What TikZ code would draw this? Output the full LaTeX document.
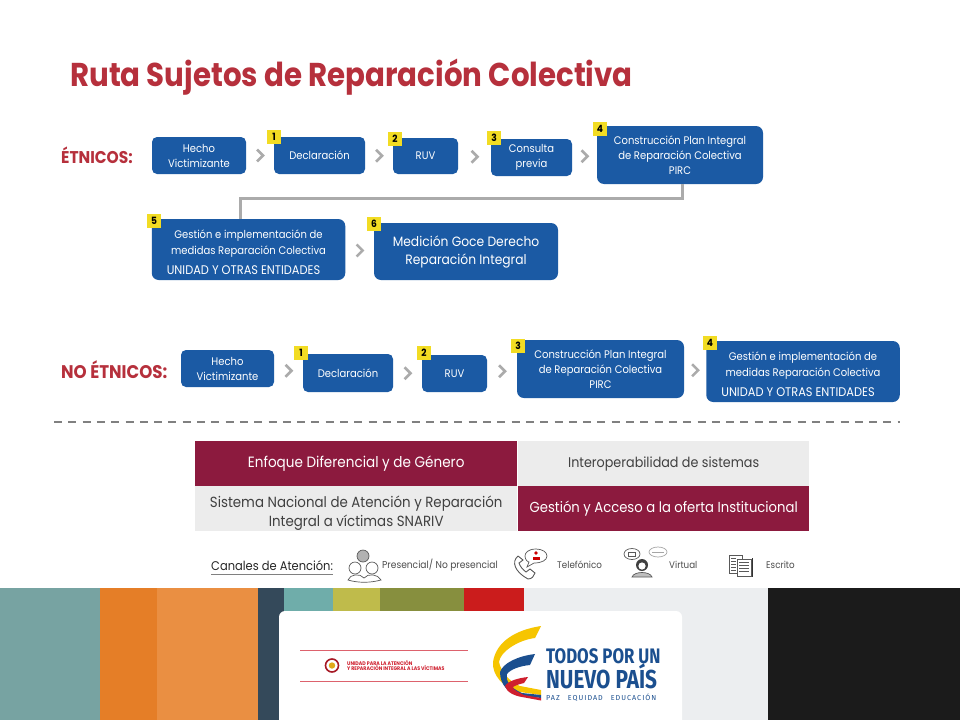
\documentclass[tikz,border=0pt]{standalone}
\usepackage{fontspec}
\usetikzlibrary{calc}
\setmainfont[FakeStretch=0.91]{Poppins}
\newfontfamily\titlefont[FakeStretch=0.887]{Poppins}
\newfontfamily\logofont[FakeStretch=0.8]{Fira Sans}
\newfontfamily\lemafont[LetterSpace=14]{Fira Sans}
\definecolor{boxblue}{HTML}{1B5AA4}
\definecolor{titlered}{HTML}{B6303C}
\definecolor{wine}{HTML}{8C1A3E}
\definecolor{pale}{HTML}{ECECEC}
\definecolor{arrowgray}{HTML}{ABABAB}
\definecolor{badge}{HTML}{F2DC23}
\definecolor{logoblue}{HTML}{1B4F8F}
\definecolor{logoyellow}{HTML}{F6C500}
\definecolor{logored}{HTML}{CF1F2E}
\definecolor{bandteal}{HTML}{77A3A2}
\definecolor{bandorange}{HTML}{E57E27}
\definecolor{bandpeach}{HTML}{EA8F42}
\definecolor{bandslate}{HTML}{34495A}
\definecolor{bandaqua}{HTML}{6FADAA}
\definecolor{bandlime}{HTML}{BFBB4B}
\definecolor{bandolive}{HTML}{878F3E}
\definecolor{bandred}{HTML}{CB1C1C}
\definecolor{bandpale}{HTML}{ECEEF0}
\definecolor{bandblack}{HTML}{1B1B1B}
\tikzset{
  stepbox/.style={fill=boxblue,rounded corners=5pt,text=white,align=center,inner sep=0pt,font=\fontsize{11}{15}\selectfont},
  bigbox/.style={stepbox,rounded corners=7pt},
  gestbox/.style={bigbox,minimum width=193.5pt,minimum height=61pt,font=\fontsize{11}{16}\selectfont},
  num/.style={fill=badge,minimum size=14pt,inner sep=0pt,font=\fontsize{10}{10}\selectfont\bfseries},
  chev/.style={draw=arrowgray,line width=2.6pt},
  head/.style={text=titlered,font=\fontsize{17}{17}\selectfont\bfseries,inner sep=0pt,anchor=west},
  cell/.style={minimum width=322pt,minimum height=45pt,inner sep=0pt,align=center,anchor=north west,font=\fontsize{14.5}{19}\selectfont},
  chan/.style={inner sep=0pt,anchor=west,text=black!70,font=\fontsize{9.6}{9.6}\selectfont},
  icon/.style={draw=black!65,line width=.7pt}
}
\newcommand{\chevat}[2]{\draw[chev] ($(#1.east)!.5!(#2.west)$) ++(-3,-6) -- ++(6,6) -- ++(-6,6);}
\newcommand{\otras}{{\fontsize{12.5}{16}\selectfont UNIDAD Y OTRAS ENTIDADES}\hspace*{10pt}}
\begin{document}
\begin{tikzpicture}[x=1pt,y=-1pt]
\useasboundingbox (0,0) rectangle (960,720);
\fill[white] (0,0) rectangle (960,720);
\node (title) [anchor=west,inner sep=0pt,text=titlered,font=\titlefont\fontsize{33}{33}\selectfont\bfseries] at (70,77) {Ruta Sujetos de Reparación Colectiva};
% etnicos
\node (et) [head] at (61,155) {ÉTNICOS:};
\node (a0) [stepbox,minimum width=94pt,minimum height=37pt] at (199,155.5) {Hecho\\Victimizante};
\node (a1) [stepbox,minimum width=91pt,minimum height=37pt] at (319.5,155.5) {Declaración};
\node (a2) [stepbox,minimum width=65pt,minimum height=36pt] at (425.5,156) {RUV};
\node (a3) [stepbox,minimum width=81pt,minimum height=37pt] at (531.5,157.5) {Consulta\\previa};
\node (a4) [bigbox,minimum width=166pt,minimum height=58pt] at (680,155) {Construcción Plan Integral\\de Reparación Colectiva\\PIRC};
\node (a5) [gestbox] at (248.5,249.5) {\rule{0pt}{15pt}Gestión e implementación de\\medidas Reparación Colectiva\\[4pt]\otras};
\node (a6) [bigbox,minimum width=184pt,minimum height=57pt,font=\fontsize{13.5}{18}\selectfont] at (466,251.5) {Medición Goce Derecho\\Reparación Integral};
\node (n1) [num] at (274,137) {1};
\node (n2) [num] at (395,138.5) {2};
\node (n3) [num] at (494,138) {3};
\node (n4) [num] at (600,129) {4};
\node (n5) [num] at (154,220.5) {5};
\node (n6) [num] at (374,223.5) {6};
\chevat{a0}{a1}
\chevat{a1}{a2}
\chevat{a2}{a3}
\chevat{a3}{a4}
\chevat{a5}{a6}
\coordinate (bendr) at (682,198.5);
\coordinate (bendl) at (240,198.5);
\draw[draw=arrowgray,line width=3pt] (a4.south -| bendr) -- (bendr) -- (bendl) -- (a5.north -| bendl);
% no etnicos
\node (net) [head,font=\fontsize{18.3}{18}\selectfont\bfseries] at (61,370) {NO ÉTNICOS:};
\node (b0) [stepbox,minimum width=93pt,minimum height=37pt] at (227.5,368.5) {Hecho\\Victimizante};
\node (b1) [stepbox,minimum width=90pt,minimum height=38pt] at (348,373) {Declaración};
\node (b2) [stepbox,minimum width=65pt,minimum height=37pt] at (454.5,373.5) {RUV};
\node (b3) [bigbox,minimum width=167pt,minimum height=58pt] at (600.5,369) {Construcción Plan Integral\\de Reparación Colectiva\\PIRC};
\node (b4) [gestbox] at (803,371.5) {\rule{0pt}{15pt}Gestión e implementación de\\medidas Reparación Colectiva\\[4pt]\otras};
\node (m1) [num] at (301,353) {1};
\node (m2) [num] at (424,352.5) {2};
\node (m3) [num] at (518,346) {3};
\node (m4) [num] at (710,343) {4};
\chevat{b0}{b1}
\chevat{b1}{b2}
\chevat{b2}{b3}
\chevat{b3}{b4}
\coordinate (dashl) at (54,422);
\coordinate (dashr) at (900,422);
\draw[draw=black!50,line width=2pt,dash pattern=on 8pt off 6.3pt] (dashl) -- (dashr);
% cuadro
\node (c1) [cell,fill=wine,text=white,font=\fontsize{14.9}{19}\selectfont] at (195,441) {Enfoque Diferencial y de Género};
\node (c2) [cell,fill=pale,text=black!75,minimum width=291pt,font=\fontsize{14}{19}\selectfont] at (518,441) {Interoperabilidad de sistemas};
\node (c3) [cell,fill=pale,text=black!75,font=\fontsize{14.7}{19}\selectfont] at (195,486) {\rule{0pt}{20pt}Sistema Nacional de Atención y Reparación\\Integral a víctimas SNARIV};
\node (c4) [cell,fill=wine,text=white,minimum width=291pt] at (518,486) {Gestión y Acceso a la oferta Institucional};
% canales
\node (can) [inner sep=0pt,anchor=west,text=black!85,font=\fontsize{12.6}{12}\selectfont] at (211,566) {Canales de Atención:};
\coordinate (canl) at (211,574.5);
\coordinate (canr) at (333,574.5);
\draw[draw=black!50,line width=1pt] (canl) -- (canr);
\fill[black!30] (363,556) circle (6);
\draw[icon] (363,556) circle (6) (355,568) circle (6) (372,568) circle (6);
\draw[icon] (348,580) .. controls (350,574) and (360,573) .. (364,578) .. controls (368,573) and (378,574) .. (381,580) .. controls (370,583) and (358,583) .. (348,580) -- cycle;
\node (t1) [chan,font=\fontsize{10}{10}\selectfont] at (382,565) {Presencial/ No presencial};
\draw[icon,line width=.9pt] (518,556) .. controls (511,562) and (515,572) .. (528,579) .. controls (532,579) and (534,576) .. (535,573) -- (530,569) -- (526,572) .. controls (522,569) and (520,566) .. (519,563) -- (523,560) -- (518,556);
\draw[icon,fill=white] (536,549) .. controls (528,549) and (525,553) .. (525,556) .. controls (525,560) and (528,562) .. (529,562) -- (527,567) -- (534,563) .. controls (542,563) and (547,560) .. (547,556) .. controls (547,552) and (542,549) .. (536,549) -- cycle;
\fill[red!80!black] (536,553) circle (1.8);
\fill[red!80!black] (532.5,559.5) -- (532.5,557) -- (539.5,557) -- (539.5,559.5) -- cycle;
\node (t2) [chan] at (557,565) {Telefónico};
\draw[icon] (632,554) ellipse (8 and 5.5);
\draw[icon,black!35] (658,552) ellipse (9 and 5);
\draw[icon] (628.5,552) rectangle (635,556);
\draw[icon,black!35] (652,552) -- (664,552);
\fill[black!75] (642,565) circle (6);
\fill[white] (642,566) circle (3.6);
\draw[icon,fill=black!25] (632,577) .. controls (634,571) and (650,571) .. (652,577) -- cycle;
\node (t3) [chan] at (669,565) {Virtual};
\draw[icon,fill=white] (729,555) rectangle (742,573);
\foreach \y in {558,561,564,567,570} \draw[icon,line width=.5pt] (731,\y) -- (736,\y);
\draw[icon,fill=white] (737,559) rectangle (751,576);
\foreach \y in {562,565,568,571} \draw[icon,line width=.5pt] (739,\y) -- (749,\y);
\draw[black!80,line width=1pt] (752.5,558) -- (752.5,577);
\node (t4) [chan] at (766,565) {Escrito};
% franja
\fill[bandteal] (0,588) rectangle (100,720);
\fill[bandorange] (100,588) rectangle (157,720);
\fill[bandpeach] (157,588) rectangle (258,720);
\fill[bandslate] (258,588) rectangle (284,720);
\fill[bandaqua] (284,588) rectangle (333,720);
\fill[bandlime] (333,588) rectangle (380,720);
\fill[bandolive] (380,588) rectangle (464,720);
\fill[bandred] (464,588) rectangle (524,720);
\fill[bandpale] (524,588) rectangle (768,720);
\fill[bandblack] (768,588) rectangle (960,720);
\fill[white,rounded corners=6pt] (279,730) -- (279,611) -- (682,611) -- (682,730) -- cycle;
\coordinate (rulea) at (300,650.5);
\coordinate (ruleb) at (468,650.5);
\coordinate (rulec) at (300,681.5);
\coordinate (ruled) at (468,681.5);
\draw[draw=logored!70,line width=.8pt] (rulea) -- (ruleb) (rulec) -- (ruled);
\draw[draw=logored!80!black,line width=1.6pt,fill=white] (332,665.5) circle (6.5);
\fill[logoyellow!60!brown] (332,665.5) circle (3.2);
\node (uni) [anchor=west,inner sep=0pt,align=left,text=logored,font=\fontsize{5.2}{5.4}\selectfont\bfseries] at (347,665.5) {UNIDAD PARA LA ATENCIÓN\\Y REPARACIÓN INTEGRAL A LAS VÍCTIMAS};
% logo
\fill[logoyellow] (541,626) .. controls (515,630) and (496,642) .. (493,662) .. controls (492,675) and (503,688) .. (520,692) -- (541,695) -- (541,690) -- (520,686) .. controls (510,682) and (501,672) .. (499,662) .. controls (500,652) and (518,640) .. (535,638) -- cycle;
\fill[logoblue] (535,654) .. controls (518,656) and (503,663) .. (500,672) .. controls (500,684) and (508,694) .. (520,695.5) -- (541,698) -- (541,695) -- (522,693) .. controls (510,688) and (505,680) .. (507,674) .. controls (511,669) and (520,666) .. (530,665) -- cycle;
\fill[logored] (528,677) .. controls (518,678) and (508,681) .. (505,686) .. controls (506,692) and (515,696) .. (522,697) -- (541,700.5) -- (541,698) -- (524,695) .. controls (518,692) and (513,690) .. (513,687) .. controls (516,685) and (520,684) .. (524,683) -- cycle;
\node (tod) [anchor=west,inner sep=0pt,text=logoblue,font=\logofont\fontsize{21}{21}\selectfont\bfseries] at (546,656) {TODOS POR UN};
\node (nue) [anchor=west,inner sep=0pt,text=logoblue,font=\logofont\fontsize{26}{26}\selectfont\bfseries] at (546,676.5) {NUEVO PAÍS};
\node (paz) [anchor=west,inner sep=0pt,text=logoblue,font=\lemafont\fontsize{7.2}{7.2}\selectfont] at (546,698) {PAZ\hspace{8pt}EQUIDAD\hspace{8pt}EDUCACIÓN};
\end{tikzpicture}
\end{document}
